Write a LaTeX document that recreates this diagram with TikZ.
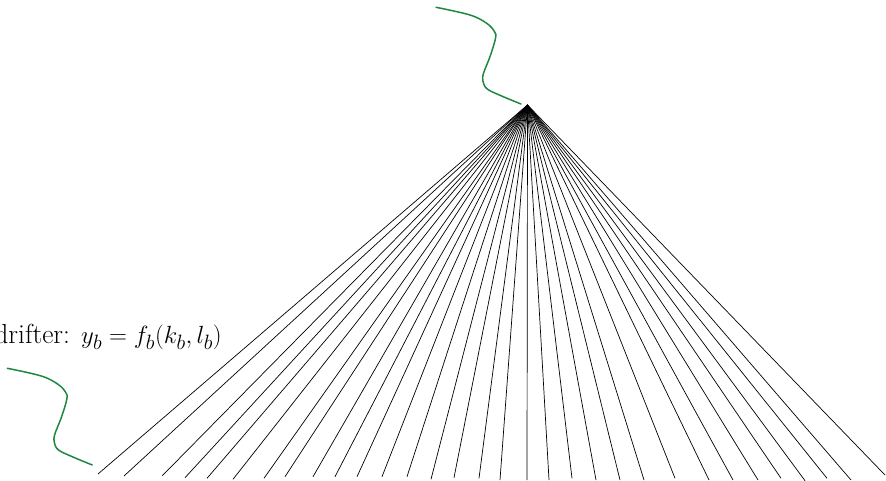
\documentclass[tikz,border=0pt]{standalone}
\definecolor{wavegreen}{RGB}{30,135,65}
\tikzset{
  ray/.style={black, line width=0.7pt},
  wave/.style={wavegreen, line width=1.5pt, line cap=round},
  eqtext/.style={font=\fontsize{27.5}{33}\selectfont, inner sep=0pt},
  pics/wavy/.style={code={
    \draw[wave] plot[smooth, tension=0.6] coordinates {(0,0) (34,7.7) (50.7,16) (58.5,24.3) (59.5,31) (54,49.3) (47.5,66) (47,74) (51,81.5) (64,88) (85,96.7)};
  }}
}
\begin{document}
\begin{tikzpicture}[x=1pt,y=-1pt]
\useasboundingbox (0,0) rectangle (886,481);
\coordinate (apex) at (527.5,105);
\foreach \bx/\by [count=\i] in {98/474,124/476,162/476,185/477.7,207/478.3,233/479.3,264/478.3,285/476.7,313/476.7,335/476.7,357/476.7,382/476.7,407/476.7,431/479.3,454/477.7,479/478.3,500/480,527/480,549/480,572/478.3,596/480,620/480,644/480,675/478.3,709/480,733/480,758/480,781/478.3,805/480.7,827/478.3,851/480,885/475}{
  \coordinate (b\i) at (\bx,\by);
  \draw[ray] (apex) -- (b\i);
}
\pic (topwave) at (436,7.3) {wavy};
\pic (leftwave) at (7.3,368.3) {wavy};
\node[eqtext, anchor=base east] (eq) at (222,343.3) {drifter: $y_b = f_b(k_b,l_b)$};
\end{tikzpicture}
\end{document}
